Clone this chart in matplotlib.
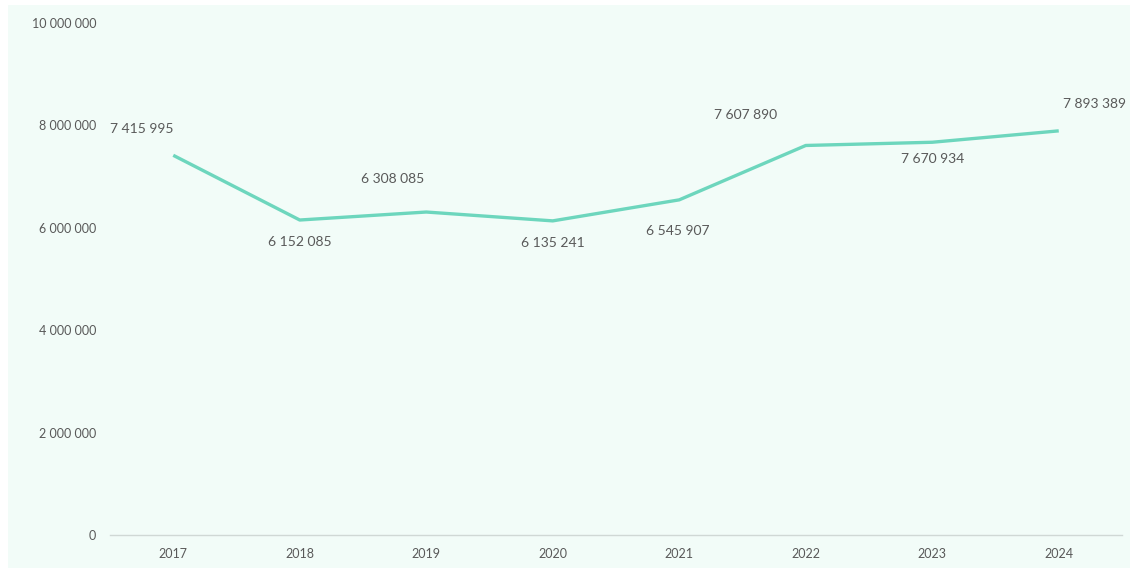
import matplotlib.pyplot as plt
from matplotlib.patches import Rectangle
from matplotlib.ticker import FuncFormatter

years = ["2017", "2018", "2019", "2020", "2021", "2022", "2023", "2024"]
values = [7415995, 6152085, 6308085, 6135241, 6545907, 7607890, 7670934, 7893389]

# label placement (pixel offsets from the point)
label_dx = [-31, 0, -34, 0, -1, -60, 0, 36]
label_dy = [26, -22, 33, -22, -31, 30, -17, 27]

bg = "#f2fcf8"
text_color = "#595959"

plt.rcParams["font.family"] = ["Lato", "DejaVu Sans"]

fig = plt.figure(figsize=(11.34, 5.70), dpi=100)
fig.patch.set_facecolor("white")
fig.add_artist(Rectangle((8 / 1134, 2 / 570), 1122 / 1134, 563 / 570,
                         transform=fig.transFigure, facecolor=bg,
                         edgecolor="none", zorder=-10))

ax = fig.add_axes([110 / 1134, 35 / 570, 1012 / 1134, 512 / 570])
ax.set_facecolor(bg)
ax.patch.set_alpha(0)

x = list(range(len(years)))
ax.plot(x, values, color="#6dd6bd", linewidth=2.4, solid_capstyle="butt")

for i, v in enumerate(values):
    ax.annotate(f"{v:,}".replace(",", " "), (i, v),
                xytext=(label_dx[i] * 0.72, label_dy[i] * 0.72),
                textcoords="offset points", ha="center", va="center",
                fontsize=10, color=text_color)

ax.set_xlim(-0.5, len(years) - 0.5)
ax.set_ylim(0, 10000000)
ax.set_xticks(x)
ax.set_xticklabels(years)
ax.set_yticks(range(0, 10000001, 2000000))
ax.yaxis.set_major_formatter(FuncFormatter(lambda v, p: f"{int(v):,}".replace(",", " ")))

for s in ["top", "right", "left"]:
    ax.spines[s].set_visible(False)
ax.spines["bottom"].set_color("#d0d8d5")
ax.spines["bottom"].set_linewidth(1)
ax.tick_params(axis="both", length=0, labelsize=9, colors=text_color)
ax.tick_params(axis="x", pad=9)
ax.tick_params(axis="y", pad=10)

fig.savefig("out.png", dpi=100, facecolor=fig.get_facecolor())
